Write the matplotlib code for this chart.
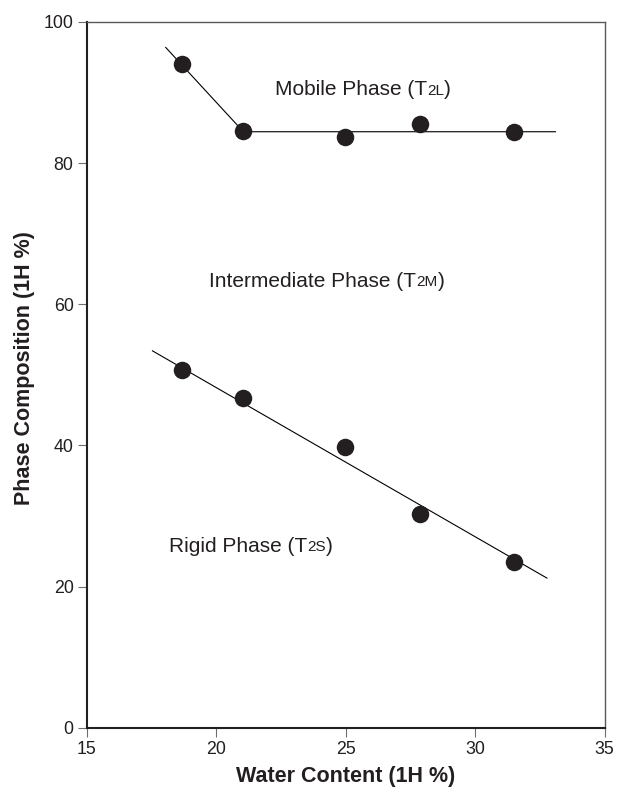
import matplotlib
matplotlib.use("Agg")
import matplotlib.pyplot as plt

plt.rcParams['font.family'] = ['Liberation Sans', 'DejaVu Sans']

# Data
water = [18.67, 21.05, 24.97, 27.87, 31.48]
mobile = [94.1, 84.5, 83.75, 85.55, 84.45]
rigid = [50.7, 46.7, 39.8, 30.3, 23.45]

mobile_fit_x = [18.05, 21.05, 33.1]
mobile_fit_y = [96.4, 84.45, 84.45]
rigid_fit_x = [17.54, 32.77]
rigid_fit_y = [53.4, 21.2]

xticks = [15, 20, 25, 30, 35]
yticks = [0, 20, 40, 60, 80, 100]

dark = '#231f20'

fig = plt.figure(figsize=(6.17, 7.88), dpi=100)
ax = fig.add_axes([86.7 / 617, 1 - 727.7 / 788, 518 / 617, 705.7 / 788])

ax.plot(mobile_fit_x, mobile_fit_y, color='black', lw=0.8, zorder=2)
ax.plot(rigid_fit_x, rigid_fit_y, color='black', lw=0.8, zorder=2)
ax.plot(water, mobile, 'o', color=dark, ms=12.6, mew=0, zorder=3)
ax.plot(water, rigid, 'o', color=dark, ms=12.6, mew=0, zorder=3)

ax.set_xlim(15, 35)
ax.set_ylim(0, 100)
ax.set_xticks(xticks)
ax.set_yticks(yticks)
ax.tick_params(direction='out', length=6.5, width=0.8, color='#6d6e71',
               labelsize=12.8, labelcolor=dark, pad=3)

for s in ('left', 'bottom'):
    ax.spines[s].set_linewidth(1.5)
    ax.spines[s].set_color(dark)
for s in ('top', 'right'):
    ax.spines[s].set_linewidth(1.0)
    ax.spines[s].set_color('#58595b')

ax.set_xlabel('Water Content (1H %)', fontsize=15.5, fontweight='bold', color=dark)
ax.xaxis.label.set_va('baseline')
ax.xaxis.set_label_coords(0.5, -0.0775)
ax.set_ylabel('Phase Composition (1H %)', fontsize=15.5, fontweight='bold', color=dark)
ax.yaxis.set_label_coords(-0.099, 0.51)


def phase_label(x, y, main, sub):
    t1 = ax.text(x, y, main, fontsize=15, color=dark, ha='left', va='baseline')
    t2 = ax.annotate(sub, xy=(1, 0), xycoords=t1, xytext=(0, 0.9),
                     textcoords='offset points', fontsize=11, color=dark,
                     ha='left', va='bottom')
    ax.annotate(')', xy=(1, 0), xycoords=t2, xytext=(0, -0.9),
                textcoords='offset points', fontsize=15, color=dark,
                ha='left', va='bottom')


phase_label(22.27, 89.66, 'Mobile Phase (T', '2L')
phase_label(19.73, 62.49, 'Intermediate Phase (T', '2M')
phase_label(18.19, 24.94, 'Rigid Phase (T', '2S')

fig.savefig('out.png', dpi=100)
